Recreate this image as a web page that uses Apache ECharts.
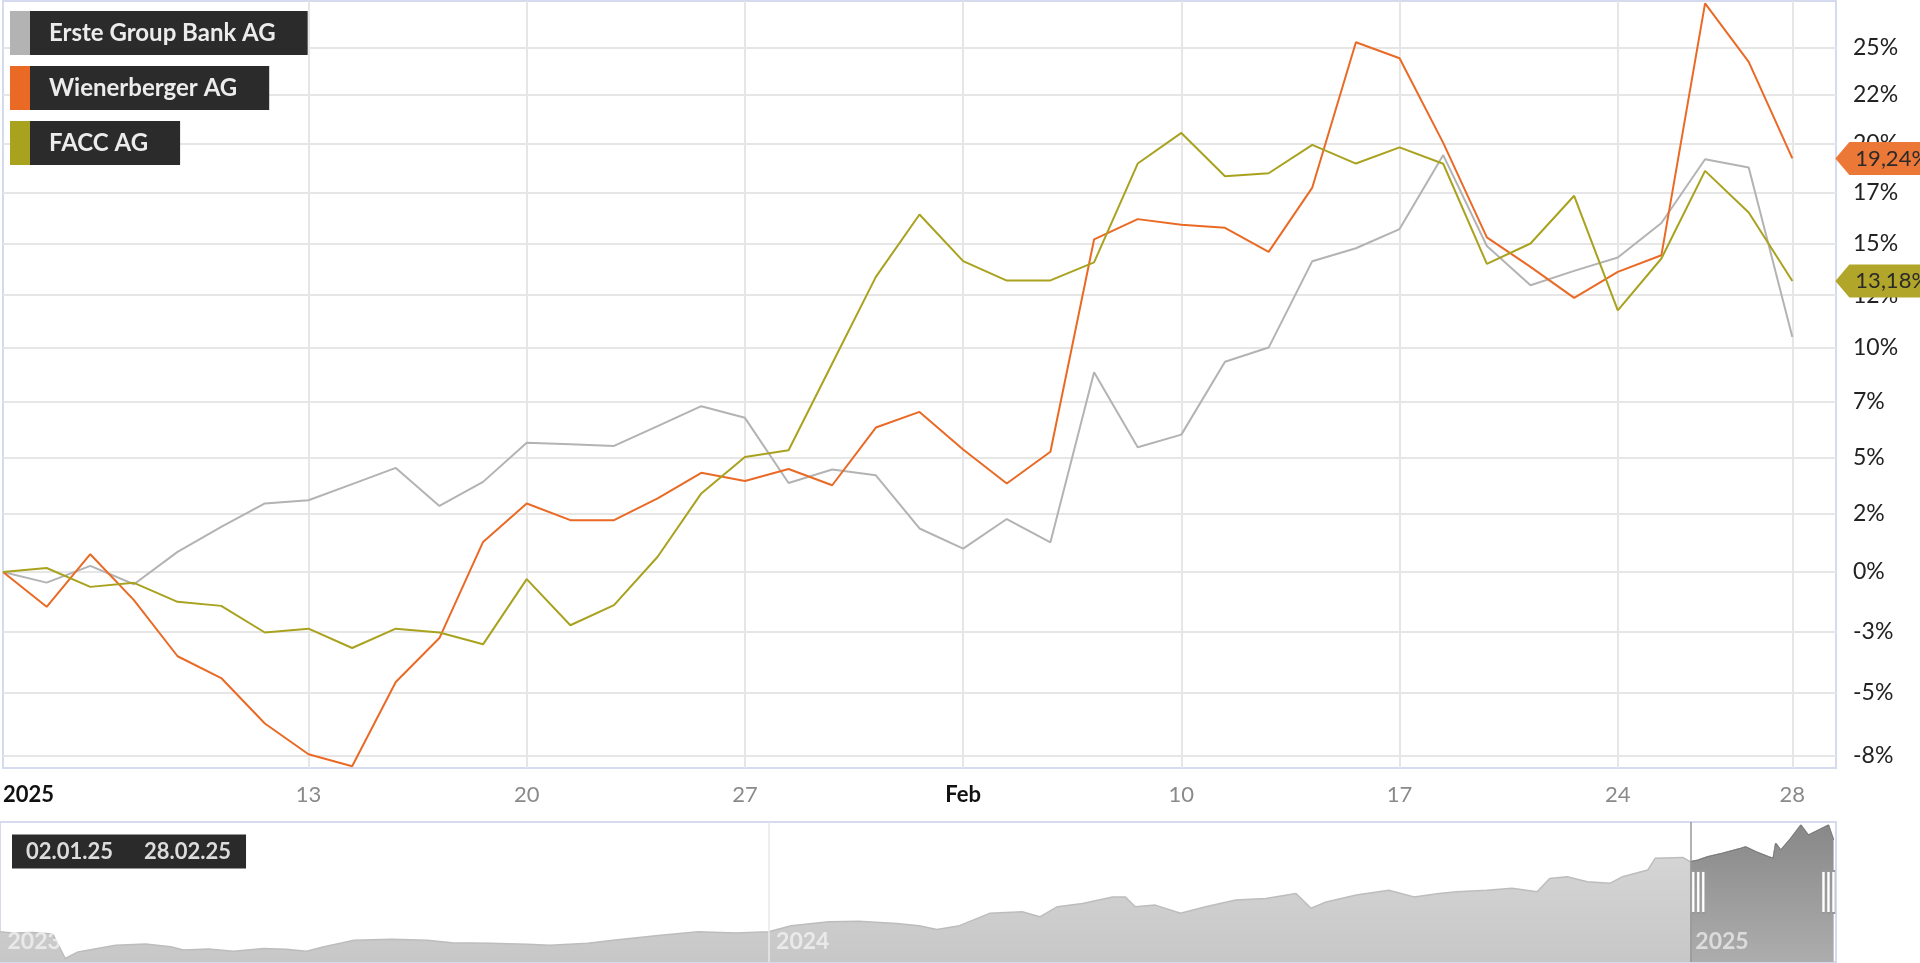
<!DOCTYPE html>
<html><head><meta charset="utf-8">
<script src="https://cdn.jsdelivr.net/npm/echarts@6/dist/echarts.min.js"></script>
<style>html,body{margin:0;padding:0;background:#fff;overflow:hidden}#c{width:1920px;height:963px}</style>
</head><body><div id="c"></div>
<script>
// ---------- data ----------
const dates = ['2025-01-02','2025-01-03','2025-01-06','2025-01-07','2025-01-08','2025-01-09','2025-01-10',
 '2025-01-13','2025-01-14','2025-01-15','2025-01-16','2025-01-17','2025-01-20','2025-01-21','2025-01-22','2025-01-23','2025-01-24',
 '2025-01-27','2025-01-28','2025-01-29','2025-01-30','2025-01-31','2025-02-03','2025-02-04','2025-02-05','2025-02-06','2025-02-07',
 '2025-02-10','2025-02-11','2025-02-12','2025-02-13','2025-02-14','2025-02-17','2025-02-18','2025-02-19','2025-02-20','2025-02-21',
 '2025-02-24','2025-02-25','2025-02-26','2025-02-27','2025-02-28'];
const seriesNames = ['Erste Group Bank AG', 'Wienerberger AG', 'FACC AG'];
// performance in % since first day
const erste = [0,-0.45,0.26,-0.52,0.86,1.94,2.96,3.10,3.81,4.53,2.85,3.91,5.65,5.59,5.51,6.40,7.31,6.78,3.86,4.46,4.20,1.87,
 1.00,2.28,1.27,8.87,5.45,6.02,9.36,10.02,14.14,14.77,15.71,19.41,14.88,12.98,13.67,14.32,16.01,19.20,18.78,10.52];
const wienerberger = [0,-1.47,0.76,-1.19,-3.52,-4.41,-6.24,-7.46,-7.93,-4.57,-2.77,1.29,2.96,2.23,2.23,3.18,4.31,3.95,4.48,3.76,6.34,7.05,
 5.35,3.84,5.25,15.20,16.20,15.92,15.77,14.59,17.77,25.28,24.43,20.03,15.30,13.86,12.37,13.62,14.43,27.37,24.24,19.24];
const facc = [0,0.17,-0.63,-0.46,-1.26,-1.43,-2.54,-2.38,-3.18,-2.38,-2.54,-3.03,-0.30,-2.24,-1.40,0.65,3.40,5.02,5.32,9.28,13.38,16.43,
 14.14,13.20,13.21,14.08,18.98,20.54,18.34,18.49,19.93,18.98,19.80,18.97,14.01,15.00,17.36,11.78,14.27,18.61,16.53,13.18];
const yTicks = [-7.5,-5,-2.5,0,2.5,5,7.5,10,12.5,15,17.5,20,22.5,25];
const xTickDates = ['2025-01-02','2025-01-13','2025-01-20','2025-01-27','2025-02-03','2025-02-10','2025-02-17','2025-02-24','2025-02-28'];
const monthNames = ['Jan','Feb','Mär','Apr','Mai','Jun','Jul','Aug','Sep','Okt','Nov','Dez'];
// navigator (long-term overview)
const navDates = ['2023-03-01','2023-03-06','2023-03-14','2023-03-22','2023-03-27','2023-04-01','2023-04-16','2023-04-28','2023-05-08','2023-05-13',
 '2023-05-23','2023-06-02','2023-06-14','2023-06-23','2023-07-01','2023-07-08','2023-07-20','2023-08-04','2023-08-18','2023-08-28',
 '2023-09-12','2023-09-27','2023-10-06','2023-10-21','2023-10-31','2023-11-19','2023-12-04','2023-12-19','2024-01-01','2024-01-10',
 '2024-01-25','2024-02-06','2024-02-21','2024-03-01','2024-03-08','2024-03-17','2024-03-29','2024-04-11','2024-04-18','2024-04-25',
 '2024-05-05','2024-05-17','2024-05-22','2024-05-26','2024-06-03','2024-06-13','2024-06-23','2024-07-05','2024-07-17','2024-07-29',
 '2024-08-04','2024-08-10','2024-08-22','2024-09-04','2024-09-14','2024-09-24','2024-10-01','2024-10-13','2024-10-23','2024-11-02',
 '2024-11-07','2024-11-14','2024-11-22','2024-12-01','2024-12-06','2024-12-16','2024-12-19','2024-12-30','2025-01-02','2025-01-05',
 '2025-01-09','2025-01-15','2025-01-22','2025-01-24','2025-01-28','2025-02-02','2025-02-04','2025-02-05','2025-02-07','2025-02-11',
 '2025-02-15','2025-02-18','2025-02-22','2025-02-26','2025-02-28'];
const navValues = [37.9,37.5,37.6,37.2,29.4,31.5,33.6,34.0,33.1,32.1,
 32.4,31.7,32.6,32.3,31.7,33.1,35.2,35.5,35.2,34.4,
 34.2,33.9,33.6,34.2,35.2,36.8,37.9,37.5,37.9,39.8,
 41.0,41.2,40.5,39.8,38.6,39.8,43.7,44.2,42.6,45.8,
 46.8,48.9,48.9,45.8,46.3,43.7,45.8,47.9,48.4,50.0,
 45.3,47.3,49.5,51.0,48.9,50.0,50.5,51.0,51.6,50.5,
 54.7,55.3,53.7,53.2,55.3,57.4,61.1,61.4,60.0,60.5,
 61.6,62.7,64.2,64.7,63.2,61.6,61.1,65.8,63.7,67.4,
 71.6,68.4,70.0,71.6,66.9];
const navYearMarks = ['2023-03-01','2024-01-01','2025-01-01'];

// ---------- styling ----------
const colors = ['#b3b3b3', '#ea6a25', '#a9a21f'];
const arrowColors = [null, '#ec7838', '#b2a62a'];
const FONT = 'Lato';
const navMin = 28.3, navMax = 72.6;

const lg = v => Math.log(1 + v / 100);
const pctLabel = v => Math.floor(Math.round((Math.exp(v) - 1) * 1000) / 10) + '%';
const dmy = d => d.slice(8, 10) + '.' + d.slice(5, 7) + '.' + d.slice(2, 4);
const valuesList = [erste, wienerberger, facc];

function xLabel(value) {
  const k = xTickDates.indexOf(value);
  if (k < 0) return '';
  if (k === 0) return '{b|' + value.slice(0, 4) + '}';
  if (value.slice(5, 7) !== xTickDates[k - 1].slice(5, 7)) return '{b|' + monthNames[+value.slice(5, 7) - 1] + '}';
  return String(+value.slice(8, 10));
}

const mainSeries = seriesNames.map((name, i) => {
  const vals = valuesList[i];
  const s = {
    name, type: 'line', xAxisIndex: 0, yAxisIndex: 0,
    data: vals.map(lg), symbol: 'none', clip: false,
    lineStyle: { color: colors[i], width: 2 }, itemStyle: { color: colors[i] },
    emphasis: { disabled: true }
  };
  if (arrowColors[i]) {
    const last = vals[vals.length - 1];
    s.markPoint = {
      silent: true,
      symbol: 'path://M0,16 L14,0 L130,0 L130,32 L14,32 Z',
      symbolSize: [130, 33], symbolKeepAspect: false,
      symbolOffset: [43 + 65, 0],
      itemStyle: { color: arrowColors[i] },
      label: { show: true, position: 'insideLeft', distance: 20, color: '#2a2a2a', fontFamily: FONT, fontSize: 22,
        formatter: () => last.toFixed(2).replace('.', ',') + '%' },
      data: [{ coord: [dates[dates.length - 1], lg(last)] }]
    };
  }
  return s;
});

const navAll = navDates.map((d, i) => [d, navValues[i]]);
const navSel = navAll.filter(p => p[0] >= dates[0]);

const option = {
  animation: false,
  backgroundColor: '#fff',
  textStyle: { fontFamily: FONT },
  title: {
    text: '{a|' + dmy(dates[0]) + '}{b|' + dmy(dates[dates.length - 1]) + '}',
    left: 12, top: 834, padding: [6, 15, 6, 14], backgroundColor: '#2a2a2a',
    textStyle: { rich: {
      a: { fontFamily: FONT, fontSize: 22, lineHeight: 23, color: '#dcdcdc', padding: [0, 31, 0, 0] },
      b: { fontFamily: FONT, fontSize: 22, lineHeight: 23, color: '#dcdcdc' } } }
  },
  legend: {
    orient: 'vertical', left: 5, top: 11, padding: 0, itemGap: 11,
    itemWidth: 0, itemHeight: 0, selectedMode: false,
    formatter: n => '{sw| }{tx|' + n + '}',
    data: seriesNames.map((n, i) => ({
      name: n, icon: 'rect',
      textStyle: { rich: {
        sw: { backgroundColor: colors[i], width: 20, height: 44, lineHeight: 44 },
        tx: { backgroundColor: '#2b2b2b', color: '#ececec', fontFamily: FONT, fontWeight: 'bold', fontSize: 24,
              height: 44, lineHeight: 44, padding: [0, 32, 0, 19] } } }
    }))
  },
  grid: [
    { left: 0, right: 84, top: 1, bottom: 195, show: true, borderColor: '#d6daee', borderWidth: 2, backgroundColor: '#fff' },
    { left: 0, right: 84, top: 822, bottom: 1, show: true, borderColor: '#d6daee', borderWidth: 2, backgroundColor: '#fff' }
  ],
  xAxis: [
    { type: 'category', gridIndex: 0, data: dates, boundaryGap: false, max: dates.length,
      axisLine: { show: false }, axisTick: { show: false },
      axisLabel: { interval: (i, v) => xTickDates.includes(v), formatter: xLabel, margin: 16, alignMinLabel: 'left',
        color: '#8a8a8a', fontFamily: FONT, fontSize: 22,
        rich: { b: { color: '#111', fontWeight: 'bold', fontFamily: FONT, fontSize: 22 } } },
      splitLine: { show: true, interval: (i, v) => i > 0 && xTickDates.includes(v), lineStyle: { color: '#e6e6e6', width: 2 } } },
    { type: 'time', gridIndex: 1, min: navYearMarks[0], max: '2025-03-01', show: false }
  ],
  yAxis: [
    { type: 'value', gridIndex: 0, position: 'right', min: Math.log(0.92), max: Math.log(1.275),
      axisLine: { show: false },
      axisTick: { show: false, customValues: yTicks.map(lg) },
      axisLabel: { customValues: yTicks.map(lg), formatter: pctLabel, margin: 17, color: '#222', fontFamily: FONT, fontSize: 23 },
      splitLine: { show: true, lineStyle: { color: '#e6e6e6', width: 2 } } },
    { type: 'value', gridIndex: 1, min: navMin, max: navMax, show: false }
  ],
  series: [
    {
      type: 'line', xAxisIndex: 1, yAxisIndex: 1, data: navAll, symbol: 'none', silent: true,
      lineStyle: { color: '#bdbdbd', width: 1.5 },
      areaStyle: { opacity: 1, color: new echarts.graphic.LinearGradient(0, 0, 0, 1, [{ offset: 0, color: '#d9d9d9' }, { offset: 1, color: '#c7c7c7' }]) },
      markLine: { silent: true, symbol: 'none', label: { show: false }, lineStyle: { color: '#e8e8e8', width: 1.5, type: 'solid' },
        data: [{ xAxis: navYearMarks[1] }] },
      markPoint: { silent: true, symbol: 'rect', symbolSize: 1, itemStyle: { color: 'rgba(0,0,0,0)' },
        label: { show: true, position: 'right', distance: 7, offset: [0, -20], formatter: '{b}',
          color: 'rgba(255,255,255,0.6)', fontFamily: FONT, fontWeight: 'bold', fontSize: 23 },
        data: navYearMarks.map(d => ({ name: d.slice(0, 4), coord: [d, navMin] })) }
    },
    {
      type: 'line', xAxisIndex: 1, yAxisIndex: 1, data: navSel, symbol: 'none', silent: true,
      lineStyle: { color: '#7d7d7d', width: 1.5 },
      areaStyle: { opacity: 1, color: new echarts.graphic.LinearGradient(0, 0, 0, 1, [{ offset: 0, color: '#888888' }, { offset: 1, color: '#adadad' }]) },
      markLine: { silent: true, symbol: 'none', label: { show: false }, lineStyle: { color: '#999', width: 1.5, type: 'solid' },
        data: [{ xAxis: dates[0] }] },
      markPoint: { silent: true, symbol: 'path://M0,0H3V40H0Z M5,0H8V40H5Z M10,0H13V40H10Z', symbolSize: [13, 42],
        symbolKeepAspect: false, itemStyle: { color: '#fff', borderColor: '#999', borderWidth: 1 }, label: { show: false },
        data: [
          { coord: [dates[0], (navMin + navMax) / 2], symbolOffset: [8, 0] },
          { coord: [dates[dates.length - 1], (navMin + navMax) / 2], symbolOffset: [-5, 0] }
        ] }
    },
    ...mainSeries
  ]
};

const chart = echarts.init(document.getElementById('c'), null, { renderer: 'canvas' });
chart.setOption(option);
</script></body></html>
